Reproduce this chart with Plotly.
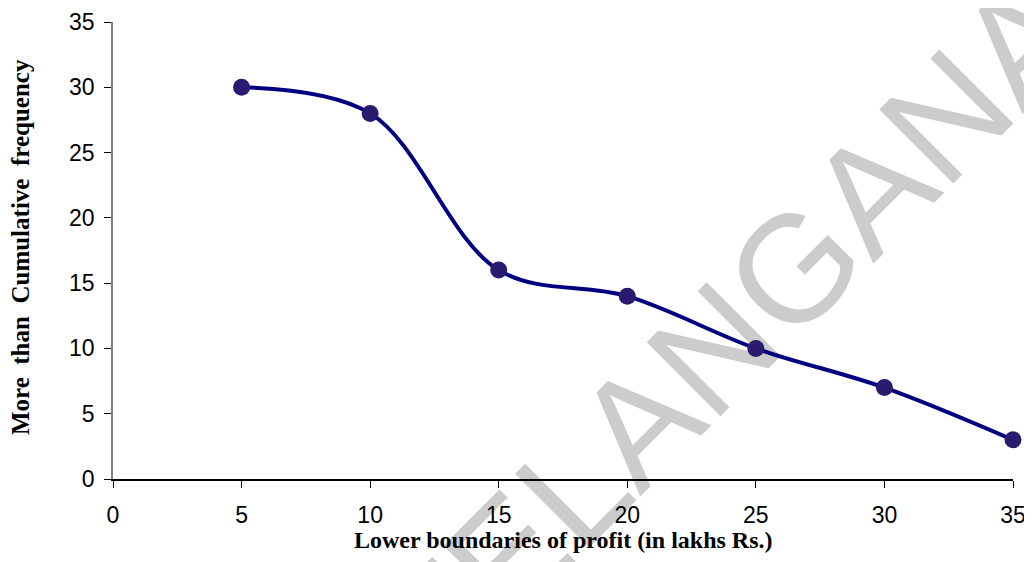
import plotly.graph_objects as go

x_vals = [5, 10, 15, 20, 25, 30, 35]
y_vals = [30, 28, 16, 14, 10, 7, 3]
x_ticks = [0, 5, 10, 15, 20, 25, 30, 35]
y_ticks = [0, 5, 10, 15, 20, 25, 30, 35]
x_title = "Lower boundaries of profit (in lakhs Rs.)"
y_title = "More\u00a0 than\u00a0 Cumulative\u00a0 frequency"
watermark = "TELANGANA"

fig = go.Figure()
fig.add_trace(go.Scatter(
    x=x_vals, y=y_vals, mode="lines+markers",
    line=dict(color="#000080", width=4, shape="spline", smoothing=1.0),
    marker=dict(color="#2b1b6f", size=17),
    cliponaxis=False, showlegend=False,
))

fig.add_shape(
    type="rect", xref="paper", yref="paper",
    x0=0.6656, x1=0.6856, y0=0.3357, y1=0.3557,
    line=dict(width=0), fillcolor="rgba(0,0,0,0)", layer="below",
    label=dict(text=watermark, textangle=-45, textposition="middle center",
               font=dict(family="Liberation Sans, Arial", size=152, color="#cccccc")),
)

fig.add_annotation(text="<b>" + x_title + "</b>", xref="paper", yref="paper",
                   x=0.5, y=-0.134, showarrow=False, xanchor="center", yanchor="middle",
                   font=dict(family="Liberation Serif, Times New Roman", size=24, color="black"))
fig.add_annotation(text="<b>" + y_title + "</b>", xref="paper", yref="paper",
                   x=-0.102, y=0.508, showarrow=False, xanchor="center", yanchor="middle",
                   textangle=-90,
                   font=dict(family="Liberation Serif, Times New Roman", size=25, color="black"))

fig.update_layout(
    width=1024, height=554,
    margin=dict(l=105, r=19, t=14, b=83),
    paper_bgcolor="white", plot_bgcolor="white",
    font=dict(family="Liberation Sans, Arial", size=23, color="black"),
    xaxis=dict(range=[0, 35], tickvals=x_ticks, showgrid=False, zeroline=False,
               showline=True, linecolor="#000000", linewidth=1.5,
               ticks="outside", ticklen=7, tickcolor="#000000",
               ticklabelstandoff=8, automargin=False),
    yaxis=dict(range=[0, 35], tickvals=y_ticks, showgrid=False, zeroline=False,
               showline=True, linecolor="#808080", linewidth=1.5,
               ticks="outside", ticklen=7, tickcolor="#000000",
               ticklabelstandoff=5, automargin=False),
)

fig.write_html("out.html")
